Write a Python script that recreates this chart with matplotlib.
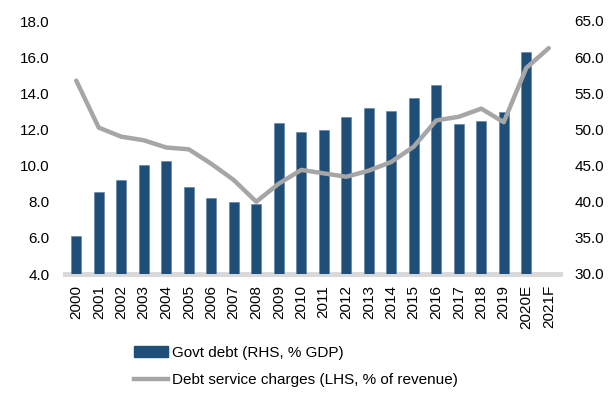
import matplotlib
matplotlib.use("Agg")
import matplotlib.pyplot as plt
from matplotlib.patches import Patch
from matplotlib.lines import Line2D
from matplotlib.ticker import FormatStrFormatter, MultipleLocator

plt.rcParams['font.family'] = ['Liberation Sans', 'DejaVu Sans']

years = ['2000', '2001', '2002', '2003', '2004', '2005', '2006', '2007', '2008', '2009',
         '2010', '2011', '2012', '2013', '2014', '2015', '2016', '2017', '2018', '2019',
         '2020E', '2021F']
govt_debt = [35.2, 41.3, 43.0, 45.1, 45.6, 42.0, 40.5, 40.0, 39.7, 50.9,
             49.6, 49.9, 51.7, 53.0, 52.6, 54.4, 56.2, 50.7, 51.1, 52.4,
             60.7, None]
debt_service = [14.7, 12.1, 11.6, 11.4, 11.0, 10.9, 10.1, 9.2, 8.0, 9.0,
                9.76, 9.57, 9.38, 9.72, 10.2, 11.05, 12.5, 12.7, 13.15, 12.4,
                15.4, 16.5]

bar_color = '#1F4E79'
line_color = '#A6A6A6'

fig = plt.figure(figsize=(6.12, 3.94), dpi=100)
ax = fig.add_axes([65/612, 1-274/394, 495/612, 253/394])
ax2 = ax.twinx()

x = list(range(len(years)))
bx = [i for i, v in zip(x, govt_debt) if v is not None]
bv = [v for v in govt_debt if v is not None]
ax2.bar(bx, [v - 30 for v in bv], bottom=30, width=0.45, color=bar_color,
        edgecolor='#5a7fa3', linewidth=0.4)
ax.plot(x, debt_service, color=line_color, linewidth=3.2, solid_capstyle='round',
        solid_joinstyle='round')

ax.set_zorder(ax2.get_zorder() + 1)
ax.patch.set_visible(False)

ax.set_xlim(-0.5, len(years) - 0.5)
ax.set_ylim(4, 18)
ax2.set_ylim(30, 65)
ax.yaxis.set_major_locator(MultipleLocator(2))
ax2.yaxis.set_major_locator(MultipleLocator(5))
ax.yaxis.set_major_formatter(FormatStrFormatter('%.1f'))
ax2.yaxis.set_major_formatter(FormatStrFormatter('%.1f'))

ax.set_xticks(x)
ax.set_xticklabels(years, rotation=90, fontsize=11)
for a in (ax, ax2):
    for s in a.spines.values():
        s.set_visible(False)
    a.tick_params(axis='both', length=0, labelsize=11, colors='black')
ax.tick_params(axis='y', pad=11)
ax2.tick_params(axis='y', pad=10.5)
ax.tick_params(axis='x', pad=8)

ax2.axhline(30, color='#D9D9D9', linewidth=3.6, zorder=0, clip_on=False)

handles = [Patch(facecolor=bar_color, edgecolor=bar_color),
           Line2D([0], [0], color=line_color, linewidth=3.2)]
labels = ['Govt debt (RHS, % GDP)', 'Debt service charges (LHS, % of revenue)']
fig.legend(handles, labels, loc='upper left', bbox_to_anchor=(128/612, 1-340/394),
           frameon=False, fontsize=11, handlelength=2.2, handletextpad=0.25,
           labelspacing=0.85, borderaxespad=0)

fig.savefig('out.png', dpi=100)
